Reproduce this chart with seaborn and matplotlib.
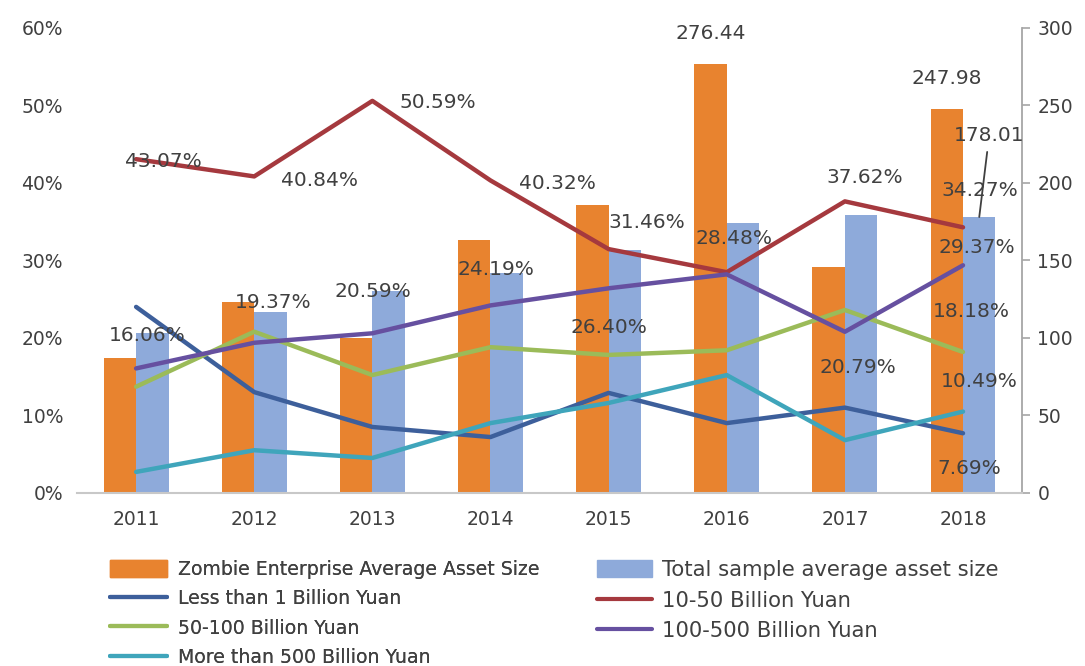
import matplotlib
matplotlib.use("Agg")
import matplotlib.pyplot as plt
import pandas as pd
import seaborn as sns
from matplotlib.lines import Line2D
from matplotlib.patches import Patch

# ---- data -------------------------------------------------------------
years = ["2011", "2012", "2013", "2014", "2015", "2016", "2017", "2018"]

# average asset size (right axis)
zombie_avg_assets = [87, 123, 100, 163, 186, 276.44, 146, 247.98]
sample_avg_assets = [103, 117, 130, 142, 157, 174, 179, 178.01]

# share of zombie enterprises by asset size band, % (left axis)
share_lt_1 = [24.0, 13.0, 8.5, 7.2, 12.9, 9.0, 11.0, 7.69]
share_10_50 = [43.07, 40.84, 50.59, 40.32, 31.46, 28.48, 37.62, 34.27]
share_50_100 = [13.7, 20.8, 15.2, 18.8, 17.8, 18.4, 23.6, 18.18]
share_100_500 = [16.06, 19.37, 20.59, 24.19, 26.40, 28.2, 20.79, 29.37]
share_gt_500 = [2.7, 5.5, 4.5, 9.0, 11.6, 15.2, 6.8, 10.49]

bar_names = ["Zombie Enterprise Average Asset Size", "Total sample average asset size"]
line_names = ["Less than 1 Billion Yuan", "10-50 Billion Yuan", "50-100 Billion Yuan",
              "100-500 Billion Yuan", "More than 500 Billion Yuan"]

# ---- styling ----------------------------------------------------------
bar_colors = {bar_names[0]: "#E8832F", bar_names[1]: "#8EAADA"}
line_colors = {
    line_names[0]: "#3D5F9B",
    line_names[1]: "#A5393E",
    line_names[2]: "#9BBB59",
    line_names[3]: "#6650A0",
    line_names[4]: "#3FA5BB",
}
text_color = "#404040"
axis_gray = "#A6A6A6"

sns.set_style("white")
plt.rcParams["font.family"] = ["DejaVu Sans"]

bars_df = pd.DataFrame({
    "year": years * 2,
    "value": zombie_avg_assets + sample_avg_assets,
    "series": [bar_names[0]] * len(years) + [bar_names[1]] * len(years),
})

line_series = [share_lt_1, share_10_50, share_50_100, share_100_500, share_gt_500]
lines_df = pd.concat([
    pd.DataFrame({"pos": range(len(years)), "share": vals, "group": name})
    for name, vals in zip(line_names, line_series)
], ignore_index=True)

fig = plt.figure(figsize=(10.85, 6.66), dpi=100)
ax_bar = fig.add_axes([0.071, 0.26, 0.871, 0.698])
ax_line = ax_bar.twinx()

sns.barplot(data=bars_df, x="year", y="value", hue="series", hue_order=bar_names,
            palette=bar_colors, width=0.55, saturation=1, gap=0, linewidth=0,
            legend=False, ax=ax_bar)
sns.lineplot(data=lines_df, x="pos", y="share", hue="group", hue_order=line_names,
             palette=line_colors, linewidth=3.2, sort=False, legend=False, ax=ax_line)

# axes: bars on right scale, shares on left scale
ax_bar.set_xlim(-0.5, len(years) - 0.5)
ax_bar.set_ylim(0, 300)
ax_bar.set_yticks(range(0, 301, 50))
ax_line.set_ylim(0, 60)
ax_line.set_yticks(range(0, 61, 10))
ax_line.set_yticklabels([f"{v}%" for v in range(0, 61, 10)])
ax_bar.yaxis.tick_right()
ax_line.yaxis.tick_left()
for a in (ax_bar, ax_line):
    a.set_xlabel("")
    a.set_ylabel("")

for s in ("left", "top"):
    ax_bar.spines[s].set_visible(False)
for s in ax_line.spines.values():
    s.set_visible(False)
ax_bar.spines["right"].set_color(axis_gray)
ax_bar.spines["right"].set_linewidth(1.3)
ax_bar.spines["bottom"].set_color("#C8C8C8")
ax_bar.spines["bottom"].set_linewidth(1.5)

ax_bar.tick_params(axis="y", direction="out", length=6, width=1.2, color=axis_gray,
                   labelsize=13.5, labelcolor=text_color, pad=5)
ax_bar.tick_params(axis="x", length=0, labelsize=13.5, labelcolor=text_color, pad=12)
ax_line.tick_params(axis="y", length=0, labelsize=13.5, labelcolor=text_color, pad=10)

# ---- value labels -----------------------------------------------------
label_kw = dict(textcoords="offset pixels", ha="center", va="center",
                fontsize=14.5, color=text_color, zorder=5)

red_offsets = [(27, -2), (65, -4), (65, -2), (67, -3), (38, 27), (7, 34), (20, 24), (17, 37)]
for i, (v, off) in enumerate(zip(share_10_50, red_offsets)):
    ax_line.annotate(f"{v:.2f}%", (i, v), xytext=off, **label_kw)

purple_offsets = {0: (11, 33), 1: (19, 40), 2: (1, 42), 3: (5, 36), 4: (0, -39),
                  6: (13, -36), 7: (14, 18)}
for i, off in purple_offsets.items():
    v = share_100_500[i]
    ax_line.annotate(f"{v:.2f}%", (i, v), xytext=off, **label_kw)

last = len(years) - 1
ax_line.annotate(f"{share_50_100[last]:.2f}%", (last, share_50_100[last]), xytext=(8, 40), **label_kw)
ax_line.annotate(f"{share_gt_500[last]:.2f}%", (last, share_gt_500[last]), xytext=(16, 30), **label_kw)
ax_line.annotate(f"{share_lt_1[last]:.2f}%", (last, share_lt_1[last]), xytext=(6, -35), **label_kw)

# bar value labels (bar scale 0-300 maps onto share scale 0-60)
half = 0.55 / 4
i16 = years.index("2016")
ax_line.annotate(f"{zombie_avg_assets[i16]:.2f}",
                 xy=(i16 - half, zombie_avg_assets[i16] / 5), xytext=(0, 31), **label_kw)
ax_line.annotate(f"{zombie_avg_assets[last]:.2f}",
                 xy=(last - half, zombie_avg_assets[last] / 5), xytext=(0, 30), **label_kw)
ax_line.annotate(f"{sample_avg_assets[last]:.2f}",
                 xy=(last + half, sample_avg_assets[last] / 5), xytext=(10, 82),
                 arrowprops=dict(arrowstyle="-", color=text_color, lw=1.3, shrinkA=3, shrinkB=0),
                 **label_kw)

# ---- legends ----------------------------------------------------------
left_handles = [Patch(color=bar_colors[bar_names[0]])] + [
    Line2D([], [], color=line_colors[n], lw=3) for n in (line_names[0], line_names[2], line_names[4])]
left_labels = [bar_names[0], line_names[0], line_names[2], line_names[4]]
leg1 = fig.legend(left_handles, left_labels, loc="upper left",
                  bbox_to_anchor=(110 / 1085, 1 - 560 / 666), frameon=False,
                  fontsize=13.6, labelcolor=text_color, handlelength=3.0, handleheight=0.95,
                  handletextpad=0.62, labelspacing=0.55, borderpad=0, borderaxespad=0)

right_handles = [Patch(color=bar_colors[bar_names[1]])] + [
    Line2D([], [], color=line_colors[n], lw=3) for n in (line_names[1], line_names[3])]
right_labels = [bar_names[1], line_names[1], line_names[3]]
fig.legend(right_handles, right_labels, loc="upper left",
           bbox_to_anchor=(597 / 1085, 1 - 560 / 666), frameon=False,
           fontsize=15.2, labelcolor=text_color, handlelength=2.6, handleheight=0.85,
           handletextpad=0.5, labelspacing=0.5, borderpad=0, borderaxespad=0)
fig.add_artist(leg1)

fig.savefig("out.png", dpi=100, facecolor="white")
